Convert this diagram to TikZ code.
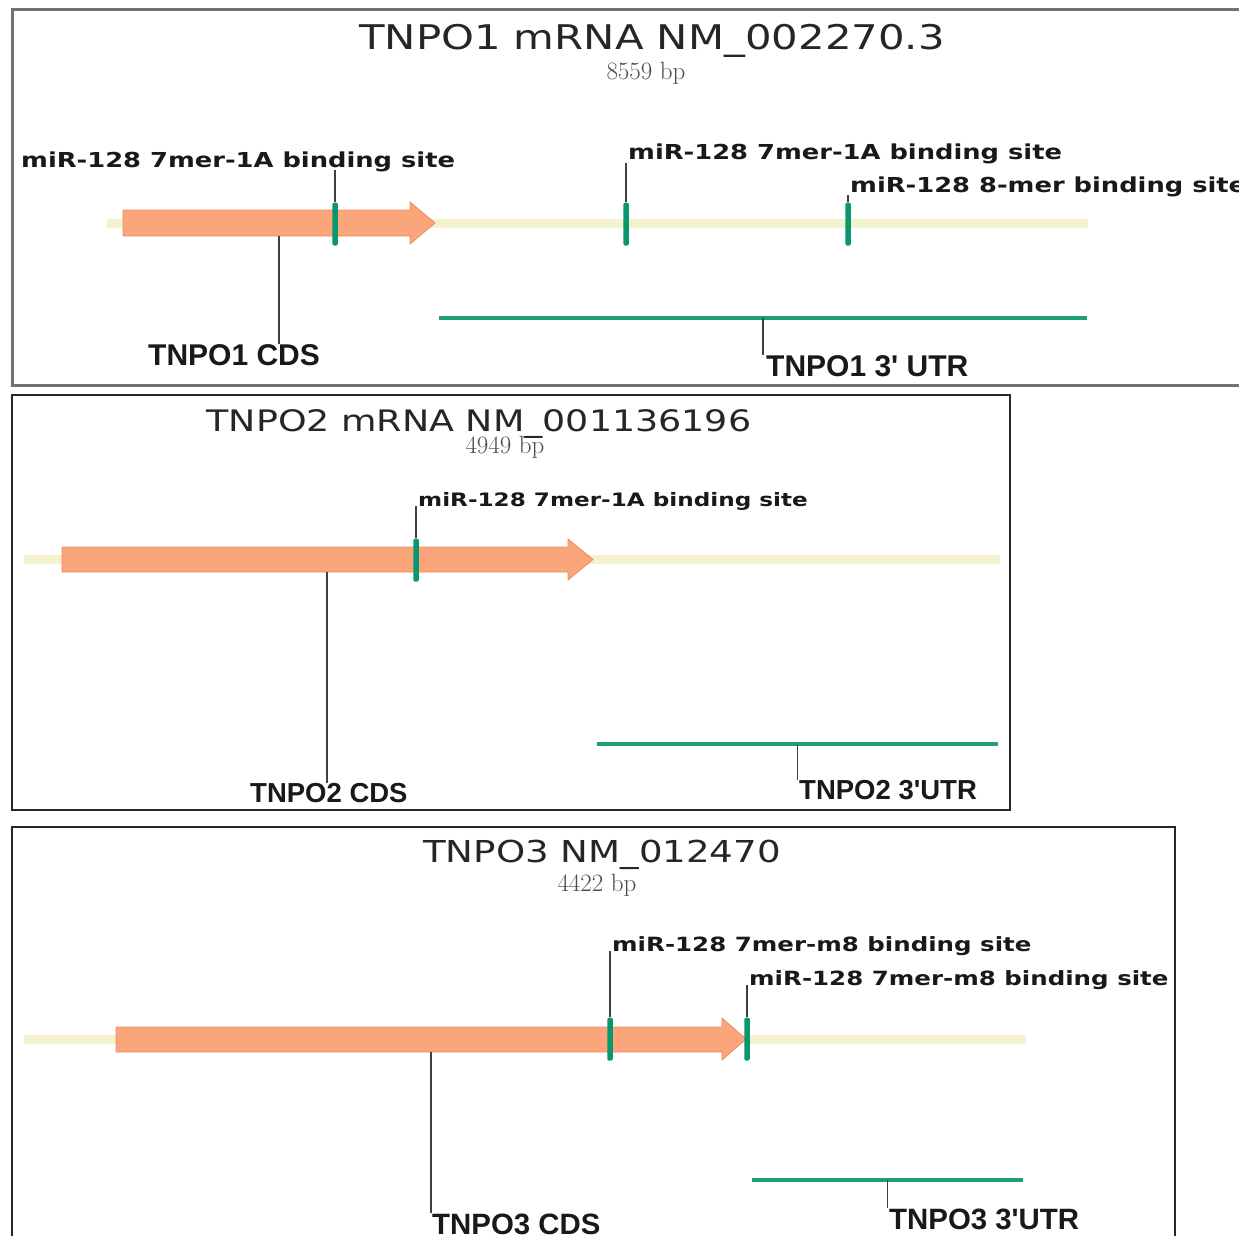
\documentclass[tikz,border=0pt]{standalone}
\usepackage{fontspec}
\usetikzlibrary{positioning}
\newfontfamily\titlefont[FakeStretch=1.23]{DejaVu Sans}
\newfontfamily\sitefont[FakeStretch=1.25]{DejaVu Sans}
\newfontfamily\partfont{Liberation Sans}
\definecolor{cream}{RGB}{245,242,208}
\definecolor{cdsfill}{RGB}{250,166,122}
\definecolor{cdsedge}{RGB}{236,140,100}
\definecolor{sitegreen}{RGB}{10,150,110}
\definecolor{utrgreen}{RGB}{30,158,118}
\begin{document}
\begin{tikzpicture}[x=1pt,y=-1pt,
  panelone/.style={draw=black!55,line width=3},
  panelframe/.style={draw=black!85,line width=2},
  title/.style={anchor=base,inner sep=0,text=black!85,font=\titlefont\fontsize{#1}{#1}\selectfont},
  bp/.style={anchor=base,inner sep=0,text=black!70,font=\rmfamily\fontsize{25}{25}\selectfont},
  sitelabel/.style={anchor=base west,inner sep=0,text=black!90,font=\sitefont\bfseries\fontsize{#1}{#1}\selectfont},
  partlabel/.style={anchor=base west,inner sep=0,text=black!90,font=\partfont\bfseries\fontsize{#1}{#1}\selectfont},
  mrna/.style={draw=cream,line width=9},
  cds/.style={fill=cdsfill,draw=cdsedge,line width=0.8},
  utr/.style={draw=utrgreen,line width=4},
  site/.style={rectangle,fill=sitegreen,minimum width=5.5,minimum height=43,inner sep=0,rounded corners=1.5},
  tick/.style={draw=black!75,line width=1.3}
]
\clip (0,0) rectangle (1239,1236);
\fill[white] (0,0) rectangle (1239,1236);

\draw[panelone] (12,10) rectangle (1262,385);
\node[title=34] (t1) at (652,50) {TNPO1 mRNA NM\_002270.3};
\node[bp] (b1) at (646,80) {8559 bp};
\draw[mrna] (107,223) -- (1088,223);
\draw[cds] (123,210) -- (410,210) -- (410,202) -- (435,223) -- (410,244) -- (410,236) -- (123,236) -- cycle;
\node[site] (m11) at (335,224) {};
\node[site] (m12) at (626,224) {};
\node[site] (m13) at (848,224) {};
\node[sitelabel=20.6] (l11) at (21,167) {miR-128 7mer-1A binding site};
\node[sitelabel=20.6] (l12) at (628,160) {miR-128 7mer-1A binding site};
\node[sitelabel=20.6] (l13) at (850,192) {miR-128 8-mer binding site};
\draw[tick] ([yshift=-3]m11 |- l11.base) -- (m11.north);
\draw[tick] ([yshift=-3]m12 |- l12.base) -- (m12.north);
\draw[tick] ([yshift=-3]m13 |- l13.base) -- (m13.north);
\coordinate (c1) at (279,236);
\node[partlabel=30] (p1) at (148,365) {TNPO1 CDS};
\draw[tick] (c1) -- (c1 |- p1.north);
\draw[utr] (439,318) -- coordinate (u1) (1087,318);
\node[partlabel=30] (r1) at (766,376) {TNPO1 3' UTR};
\draw[tick] (u1) -- (u1 |- r1.north);

\draw[panelframe] (12,395) rectangle (1010,810);
\node[title=29.6] (t2) at (479,431) {TNPO2 mRNA NM\_001136196};
\node[bp] (b2) at (505,453) {4949 bp};
\draw[mrna] (24,559) -- (1000,559);
\draw[cds] (62,547) -- (568,547) -- (568,539) -- (593,559.5) -- (568,580) -- (568,572) -- (62,572) -- cycle;
\node[site] (m21) at (416,560) {};
\node[sitelabel=18.5] (l21) at (418,506) {miR-128 7mer-1A binding site};
\draw[tick] (m21 |- l21.base) -- (m21.north);
\coordinate (c2) at (327,572);
\node[partlabel=27.5] (p2) at (250,802) {TNPO2 CDS};
\draw[tick] (c2) -- (c2 |- p2.north);
\draw[utr] (597,744) -- coordinate (u2) (998,744);
\node[partlabel=27.5] (r2) at (799,799) {TNPO2 3'UTR};
\draw[tick] (u2) -- (u2 |- r2.north);

\draw[panelframe] (12,827) rectangle (1175,1260);
\node[title=30.2] (t3) at (602,862) {TNPO3 NM\_012470};
\node[bp] (b3) at (597,891) {4422 bp};
\draw[mrna] (24,1039) -- (1026,1039);
\draw[cds] (116,1027) -- (722,1027) -- (722,1018) -- (746,1039) -- (722,1060) -- (722,1052) -- (116,1052) -- cycle;
\node[site] (m31) at (610,1039) {};
\node[site] (m32) at (747,1039) {};
\node[sitelabel=19.6] (l31) at (612,951) {miR-128 7mer-m8 binding site};
\node[sitelabel=19.6] (l32) at (749,985) {miR-128 7mer-m8 binding site};
\draw[tick] (m31 |- l31.base) -- (m31.north);
\draw[tick] (m32 |- l32.base) -- (m32.north);
\coordinate (c3) at (431,1052);
\node[partlabel=29.4] (p3) at (432,1234) {TNPO3 CDS};
\draw[tick] (c3) -- (c3 |- p3.north);
\draw[utr] (752,1180) -- coordinate (u3) (1023,1180);
\node[partlabel=29.4] (r3) at (889,1229) {TNPO3 3'UTR};
\draw[tick] (u3) -- (u3 |- r3.north);
\end{tikzpicture}
\end{document}
